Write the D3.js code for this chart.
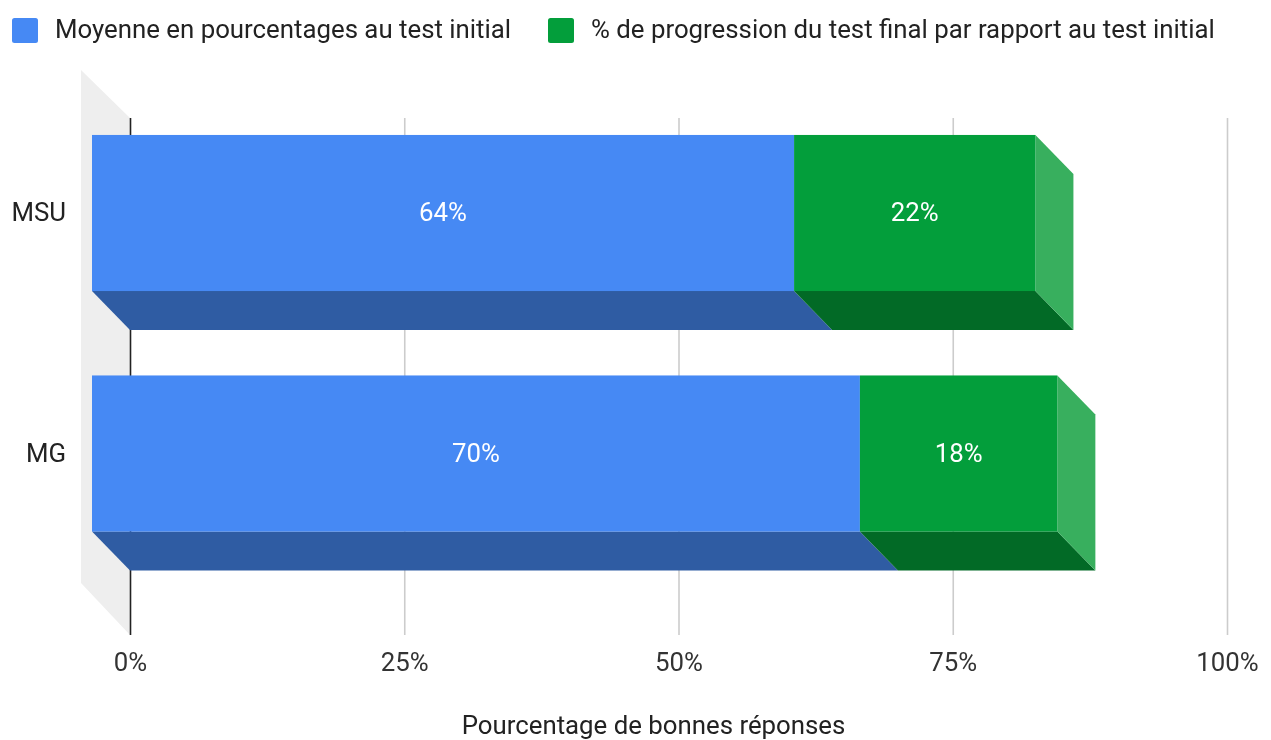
<!DOCTYPE html>
<html>
<head>
<meta charset="utf-8">
<style>
  html, body { margin: 0; padding: 0; background: #fff; }
  svg { display: block; font-family: Roboto, sans-serif; filter: blur(0.45px); }
  .domain { display: none; }
</style>
<script src="https://cdn.jsdelivr.net/npm/d3@7"></script>
</head>
<body>
<div id="chart"></div>
<script>
const categories = ["MSU", "MG"];
const initial = [64, 70];
const progress = [22, 18];
const seriesNames = [
  "Moyenne en pourcentages au test initial",
  "% de progression du test final par rapport au test initial"
];
const xTicks = [0, 25, 50, 75, 100];
const xTitle = "Pourcentage de bonnes réponses";

const width = 1271;
const height = 740;
const depthX = 38;
const depthY = 39;
const wallTop = 118;
const wallBottom = 635;
const fontSize = 25.8;

const colors = {
  blue: { front: "#4689f4", bottom: "#2f5ca3" },
  green: { front: "#039e3b", bottom: "#026a26", side: "#38af5e" }
};

const svg = d3.select("#chart").append("svg")
  .attr("width", width)
  .attr("height", height);

const x = d3.scaleLinear().domain([0, 100]).range([130, 1227]);
const y = d3.scaleBand()
  .domain(categories)
  .range([92.75, 573.75])
  .paddingInner(0.351)
  .paddingOuter(0.1755);

// Grey back wall, sheared like the bars
svg.append("path")
  .attr("fill", "#eeeeee")
  .attr("d", d3.line()([
    [x(0) - depthX - 11, wallTop - 48],
    [x(0), wallTop],
    [x(0), wallBottom],
    [x(0) - depthX - 11, wallBottom - 52]
  ]));

// Gridlines and tick labels come from the axis
const axis = svg.append("g")
  .attr("transform", `translate(0,${wallBottom})`)
  .call(d3.axisBottom(x)
    .tickValues(xTicks)
    .tickSize(-(wallBottom - wallTop))
    .tickPadding(15)
    .tickFormat(d => d + "%"));

axis.selectAll("line")
  .attr("stroke", d => d === 0 ? "#222222" : "#cccccc")
  .attr("stroke-width", 1.6);

axis.selectAll("text")
  .attr("font-family", "Roboto, sans-serif")
  .attr("font-size", fontSize)
  .attr("y", 18)
  .attr("fill", "#333333");

const rows = categories.map((name, i) => ({
  name: name,
  initial: initial[i],
  total: initial[i] + progress[i],
  progress: progress[i]
}));

const row = svg.append("g")
  .selectAll("g")
  .data(rows)
  .join("g");

const poly = d3.line();

// Bottom faces
row.append("path")
  .attr("fill", colors.blue.bottom)
  .attr("d", d => {
    const b = y(d.name) + y.bandwidth();
    return poly([
      [x(0) - depthX, b],
      [x(d.initial) - depthX, b],
      [x(d.initial), b + depthY],
      [x(0), b + depthY]
    ]);
  });

row.append("path")
  .attr("fill", colors.green.bottom)
  .attr("d", d => {
    const b = y(d.name) + y.bandwidth();
    return poly([
      [x(d.initial) - depthX, b],
      [x(d.total) - depthX, b],
      [x(d.total), b + depthY],
      [x(d.initial), b + depthY]
    ]);
  });

// Right side
row.append("path")
  .attr("fill", colors.green.side)
  .attr("d", d => {
    const t = y(d.name);
    const b = t + y.bandwidth();
    return poly([
      [x(d.total) - depthX, t],
      [x(d.total), t + depthY],
      [x(d.total), b + depthY],
      [x(d.total) - depthX, b]
    ]);
  });

// Front faces
row.append("rect")
  .attr("x", d => x(0) - depthX)
  .attr("y", d => y(d.name))
  .attr("width", d => x(d.initial) - x(0))
  .attr("height", y.bandwidth())
  .attr("fill", colors.blue.front);

row.append("rect")
  .attr("x", d => x(d.initial) - depthX)
  .attr("y", d => y(d.name))
  .attr("width", d => x(d.total) - x(d.initial))
  .attr("height", y.bandwidth())
  .attr("fill", colors.green.front);

// Value labels
row.append("text")
  .attr("x", d => x(d.initial / 2) - depthX)
  .attr("y", d => y(d.name) + y.bandwidth() / 2 - 1)
  .attr("dy", "0.35em")
  .attr("text-anchor", "middle")
  .attr("font-size", fontSize)
  .attr("fill", "#ffffff")
  .text(d => d.initial + "%");

row.append("text")
  .attr("x", d => x(d.initial + d.progress / 2) - depthX)
  .attr("y", d => y(d.name) + y.bandwidth() / 2 - 1)
  .attr("dy", "0.35em")
  .attr("text-anchor", "middle")
  .attr("font-size", fontSize)
  .attr("fill", "#ffffff")
  .text(d => d.progress + "%");

// Category labels
row.append("text")
  .attr("x", 66)
  .attr("y", d => y(d.name) + y.bandwidth() / 2 - 1)
  .attr("dy", "0.35em")
  .attr("text-anchor", "end")
  .attr("font-size", fontSize)
  .attr("fill", "#222222")
  .text(d => d.name);

// Axis title
svg.append("text")
  .attr("x", 653.5)
  .attr("y", 734)
  .attr("text-anchor", "middle")
  .attr("font-size", fontSize)
  .attr("fill", "#222222")
  .text(xTitle);

// Legend
const legendX = [12, 548];
const legendColors = [colors.blue.front, colors.green.front];

const legend = svg.append("g")
  .selectAll("g")
  .data(seriesNames)
  .join("g")
  .attr("transform", (d, i) => `translate(${legendX[i]},18)`);

legend.append("rect")
  .attr("width", 26)
  .attr("height", 25)
  .attr("rx", 2.5)
  .attr("fill", (d, i) => legendColors[i]);

legend.append("text")
  .attr("x", 43)
  .attr("y", 11)
  .attr("dy", "0.35em")
  .attr("font-size", fontSize)
  .attr("fill", "#222222")
  .text(d => d);
</script>
</body>
</html>
